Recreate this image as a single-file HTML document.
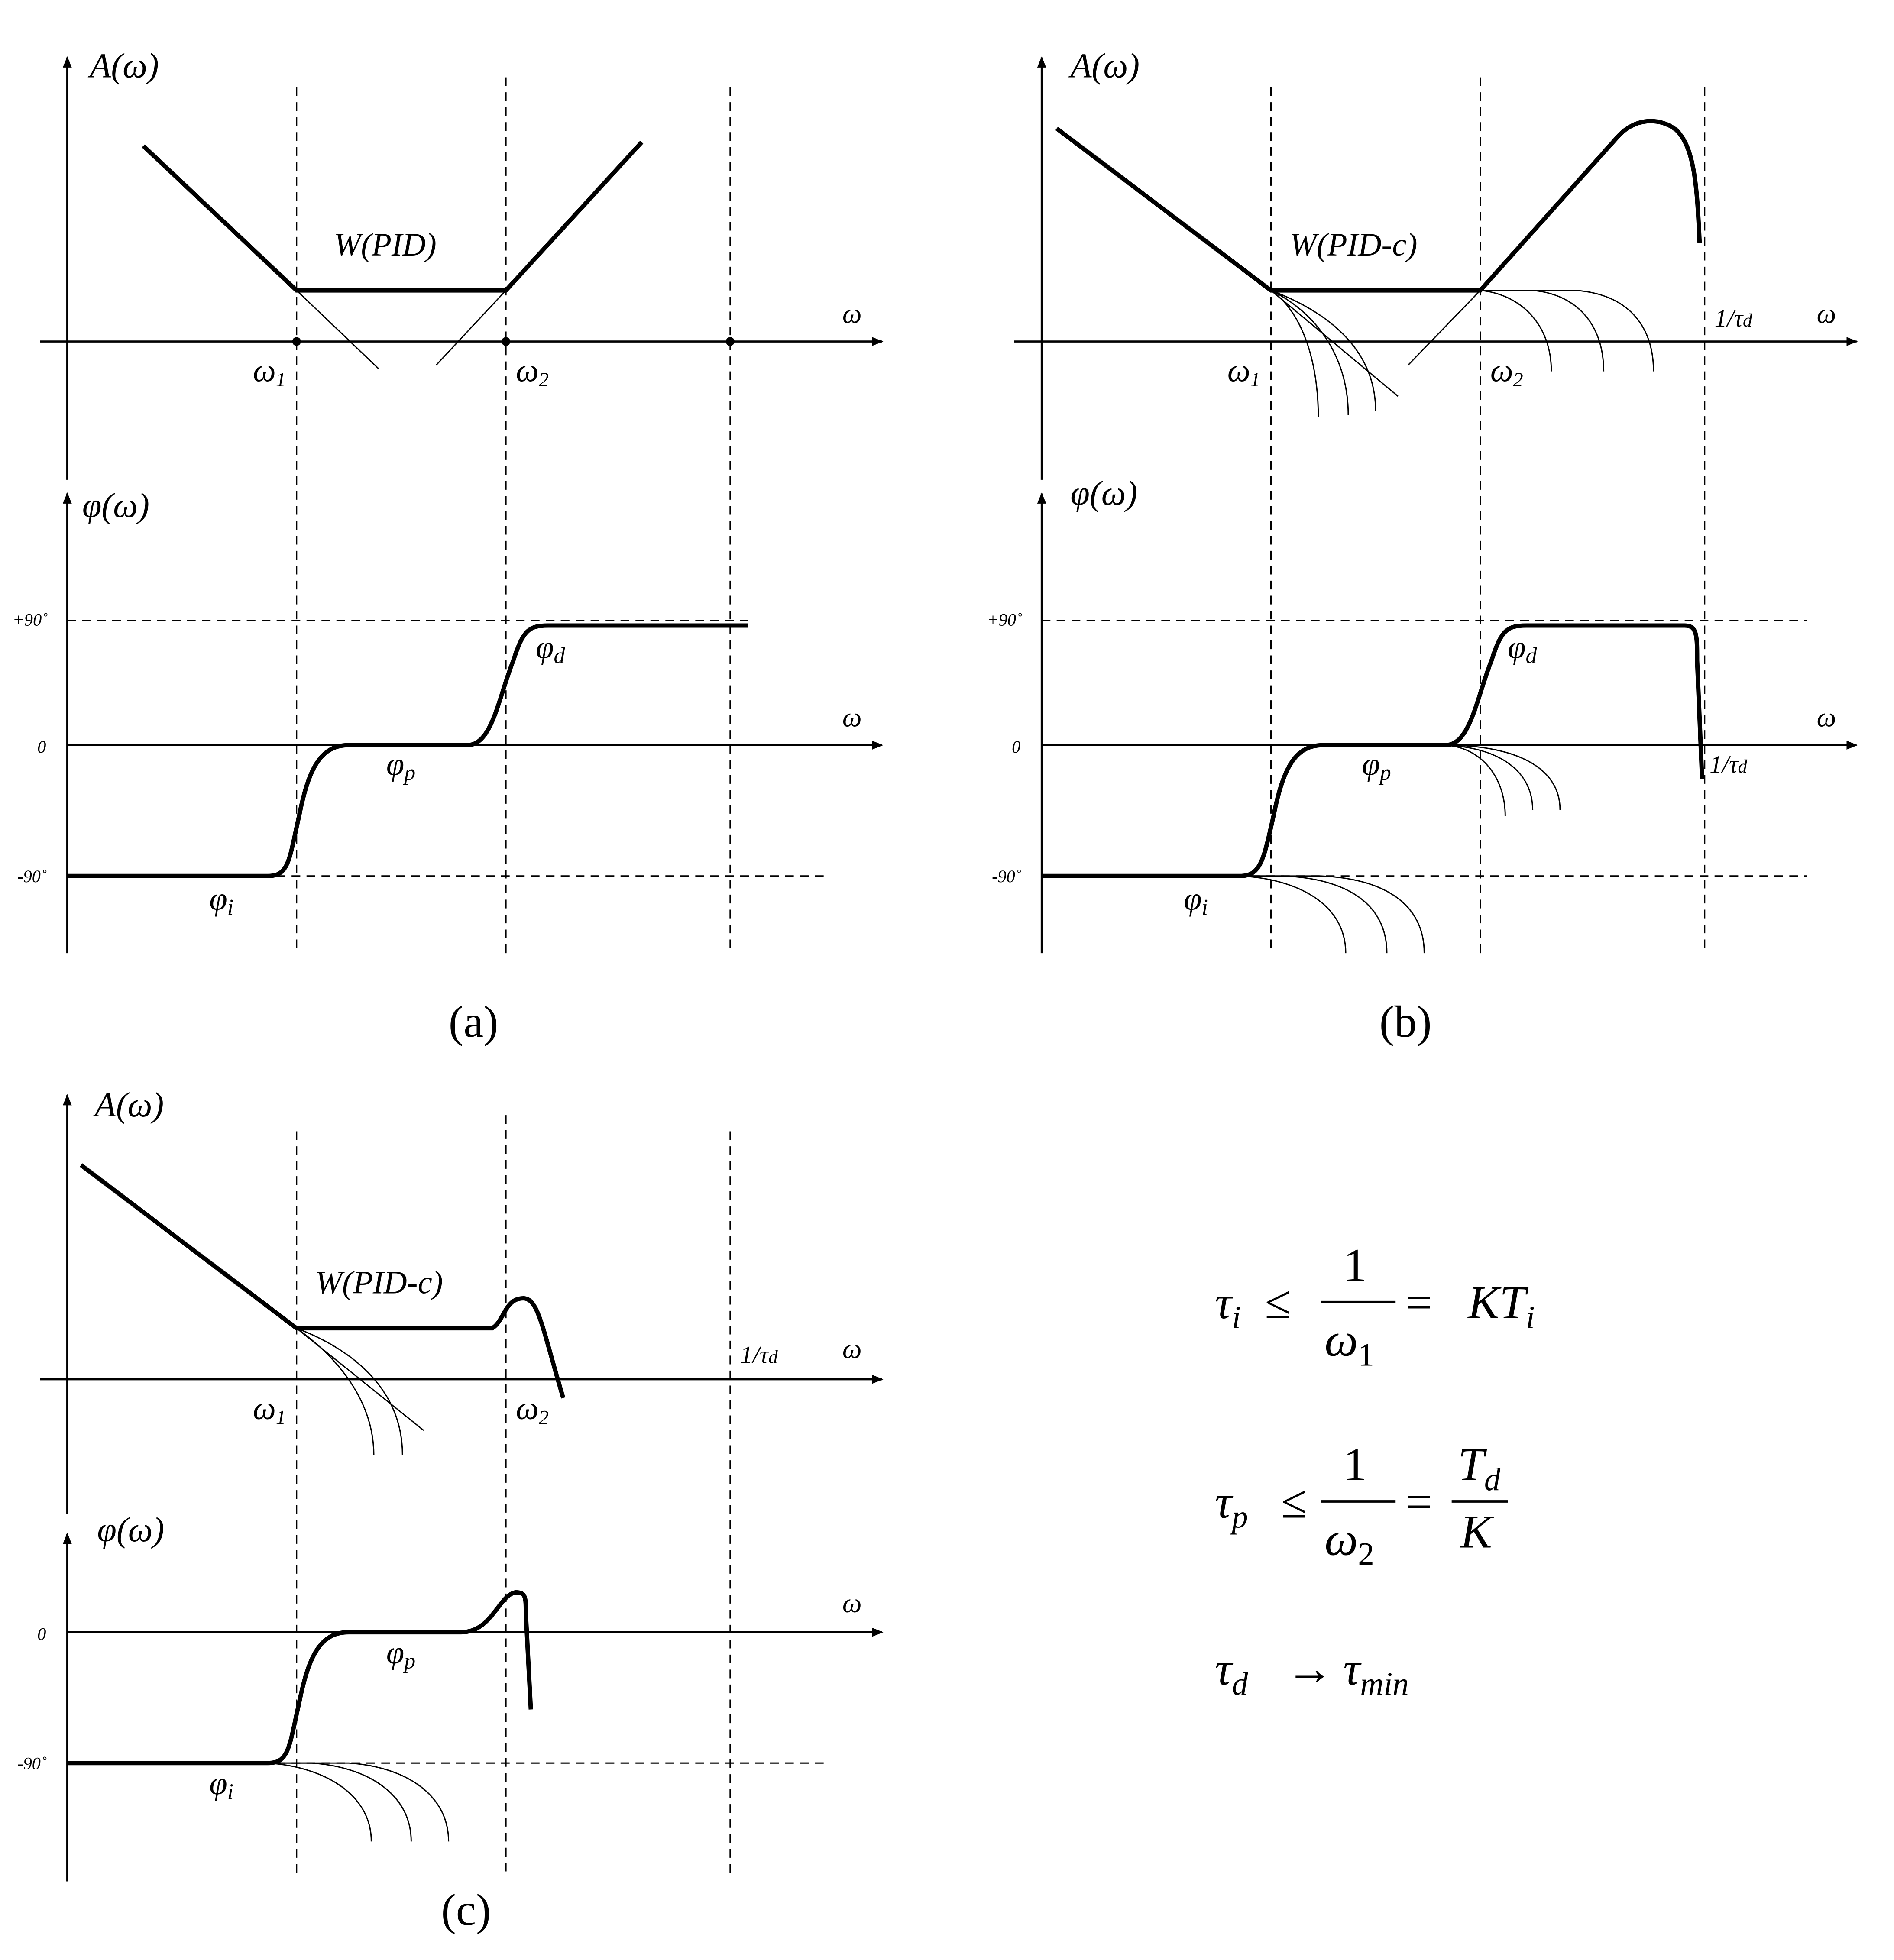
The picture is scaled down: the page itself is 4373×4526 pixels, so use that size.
<!DOCTYPE html>
<html><head><meta charset="utf-8"><style>
html,body{margin:0;padding:0;background:#fff;}
svg{display:block;}
text{font-family:"Liberation Serif",serif;fill:#000;}
.it{font-style:italic;}
.sm{font-family:"DejaVu Sans","Liberation Sans",sans-serif;font-style:italic;font-size:14px;}
</style></head><body>
<svg width="4373" height="4526" viewBox="0 0 1520 1573" xmlns="http://www.w3.org/2000/svg">
<defs>
<marker id="ar" viewBox="0 0 10 10" refX="9" refY="5" markerWidth="9" markerHeight="9" orient="auto" markerUnits="userSpaceOnUse"><path d="M0,1 L10,5 L0,9 z" fill="#000"/></marker>
</defs>
<g stroke="#000" fill="none">
<!-- Panel a -->
<g stroke-width="1.6">
<line x1="54" y1="385" x2="54" y2="46" marker-end="url(#ar)"/>
<line x1="32" y1="274" x2="708" y2="274" marker-end="url(#ar)"/>
<line x1="54" y1="765" x2="54" y2="396" marker-end="url(#ar)"/>
<line x1="54" y1="598" x2="708" y2="598" marker-end="url(#ar)"/>
</g>
<g stroke-width="1.1" stroke-dasharray="7,5">
<line x1="238" y1="70" x2="238" y2="765"/><line x1="406" y1="62" x2="406" y2="765"/><line x1="586" y1="70" x2="586" y2="765"/>
<line x1="54" y1="498" x2="600" y2="498"/><line x1="54" y1="703" x2="665" y2="703"/>
</g>
<polyline points="115,117 238,233 406,233 515,114" stroke-width="3.5"/>
<line x1="238" y1="233" x2="304" y2="296" stroke-width="1"/>
<line x1="406" y1="233" x2="350" y2="293" stroke-width="1"/>
<path d="M54,703 L215,703 C232,703 232,690 240,655 C248,615 258,598 280,598 L375,598 C395,598 400,560 412,530 C420,505 425,502 440,502 L600,502" stroke-width="3.5"/>
<!-- Panel b -->
<g stroke-width="1.6">
<line x1="836" y1="385" x2="836" y2="46" marker-end="url(#ar)"/>
<line x1="814" y1="274" x2="1490" y2="274" marker-end="url(#ar)"/>
<line x1="836" y1="765" x2="836" y2="396" marker-end="url(#ar)"/>
<line x1="836" y1="598" x2="1490" y2="598" marker-end="url(#ar)"/>
</g>
<g stroke-width="1.1" stroke-dasharray="7,5">
<line x1="1020" y1="70" x2="1020" y2="765"/><line x1="1188" y1="62" x2="1188" y2="765"/><line x1="1368" y1="70" x2="1368" y2="765"/>
<line x1="836" y1="498" x2="1450" y2="498"/><line x1="836" y1="703" x2="1450" y2="703"/>
</g>
<path d="M848,103 L1020,233 L1188,233 L1298,110 C1312,94 1332,94 1345,104 C1360,118 1362,150 1364,195" stroke-width="3.5"/>
<g stroke-width="1">
<line x1="1020" y1="233" x2="1122" y2="318"/>
<line x1="1188" y1="233" x2="1130" y2="293"/>
<path d="M1020,233 C1045,250 1058,290 1058,335"/>
<path d="M1020,233 C1055,250 1082,285 1082,333"/>
<path d="M1020,233 C1065,250 1104,280 1104,330"/>
<path d="M1188,233 C1220,236 1245,260 1245,298"/>
<path d="M1188,233 L1230,233 C1265,236 1287,260 1287,298"/>
<path d="M1188,233 L1265,233 C1305,236 1327,260 1327,298"/>
<path d="M1160,598 C1190,600 1208,625 1208,655"/>
<path d="M1160,598 C1205,600 1230,620 1230,650"/>
<path d="M1160,598 C1215,598 1252,615 1252,650"/>
<path d="M995,703 C1040,705 1080,725 1080,765"/>
<path d="M995,703 L1030,703 C1080,705 1113,725 1113,765"/>
<path d="M995,703 L1060,703 C1110,705 1143,725 1143,765"/>
</g>
<path d="M836,703 L995,703 C1012,703 1014,690 1022,655 C1030,615 1040,598 1062,598 L1160,598 C1180,598 1185,560 1197,530 C1205,505 1210,502 1225,502 L1352,502 C1362,502 1362,510 1362,530 L1366,625" stroke-width="3.5"/>
<!-- Panel c -->
<g stroke-width="1.6">
<line x1="54" y1="1215" x2="54" y2="879" marker-end="url(#ar)"/>
<line x1="32" y1="1107" x2="708" y2="1107" marker-end="url(#ar)"/>
<line x1="54" y1="1510" x2="54" y2="1231" marker-end="url(#ar)"/>
<line x1="54" y1="1310" x2="708" y2="1310" marker-end="url(#ar)"/>
</g>
<g stroke-width="1.1" stroke-dasharray="7,5">
<line x1="238" y1="908" x2="238" y2="1505"/><line x1="406" y1="895" x2="406" y2="1505"/><line x1="586" y1="908" x2="586" y2="1505"/>
<line x1="54" y1="1415" x2="665" y2="1415"/>
</g>
<path d="M65,935 L238,1066 L395,1066 C405,1060 405,1042 420,1042 C432,1042 435,1065 452,1122" stroke-width="3.5"/>
<g stroke-width="1">
<line x1="238" y1="1066" x2="340" y2="1148"/>
<path d="M238,1066 C265,1085 300,1120 300,1168"/>
<path d="M238,1066 C275,1080 323,1110 323,1168"/>
<path d="M215,1415 C260,1418 298,1440 298,1478"/>
<path d="M215,1415 L250,1415 C295,1418 330,1440 330,1478"/>
<path d="M215,1415 L280,1415 C325,1418 360,1440 360,1478"/>
</g>
<path d="M54,1415 L215,1415 C232,1415 232,1402 240,1367 C248,1327 258,1310 280,1310 L370,1310 C395,1310 400,1280 414,1278 C422,1278 422,1282 422,1295 L426,1372" stroke-width="3.5"/>
</g>
<!-- dots -->
<circle cx="238" cy="274" r="3.5"/><circle cx="406" cy="274" r="3.5"/><circle cx="586" cy="274" r="3.5"/>
<!-- labels a -->
<g class="it" font-size="28">
<text x="72" y="62">A(ω)</text><text x="66" y="415">φ(ω)</text>
<text x="859" y="62" font-size="28">A(ω)</text><text x="859" y="405">φ(ω)</text>
<text x="76" y="896">A(ω)</text><text x="78" y="1237">φ(ω)</text>
</g>
<g class="it" font-size="26">
<text x="268" y="205">W(PID)</text>
<text x="1035" y="205">W(PID-c)</text>
<text x="253" y="1038">W(PID-c)</text>
<text x="203" y="306">ω<tspan font-size="16" dy="4">1</tspan></text>
<text x="414" y="306">ω<tspan font-size="16" dy="4">2</tspan></text>
<text x="985" y="306">ω<tspan font-size="16" dy="4">1</tspan></text>
<text x="1196" y="306">ω<tspan font-size="16" dy="4">2</tspan></text>
<text x="203" y="1139">ω<tspan font-size="16" dy="4">1</tspan></text>
<text x="414" y="1139">ω<tspan font-size="16" dy="4">2</tspan></text>
<text x="676" y="259" font-size="22">ω</text><text x="676" y="583" font-size="22">ω</text>
<text x="1458" y="259" font-size="22">ω</text><text x="1458" y="583" font-size="22">ω</text>
<text x="676" y="1090" font-size="22">ω</text><text x="676" y="1294" font-size="22">ω</text>
<text x="310" y="622">φ<tspan font-size="18" dy="4">p</tspan></text>
<text x="168" y="730">φ<tspan font-size="18" dy="4">i</tspan></text>
<text x="430" y="528">φ<tspan font-size="18" dy="4">d</tspan></text>
<text x="1093" y="622">φ<tspan font-size="18" dy="4">p</tspan></text>
<text x="950" y="730">φ<tspan font-size="18" dy="4">i</tspan></text>
<text x="1210" y="528">φ<tspan font-size="18" dy="4">d</tspan></text>
<text x="310" y="1335">φ<tspan font-size="18" dy="4">p</tspan></text>
<text x="168" y="1440">φ<tspan font-size="18" dy="4">i</tspan></text>
<text x="1376" y="262" font-size="20">1/τ<tspan font-size="15">d</tspan></text>
<text x="1372" y="620" font-size="20">1/τ<tspan font-size="15">d</tspan></text>
<text x="594" y="1094" font-size="20">1/τ<tspan font-size="15">d</tspan></text>
</g>
<g class="sm">
<text x="10" y="502">+90˚</text><text x="30" y="604">0</text><text x="14" y="708">-90˚</text>
<text x="792" y="502">+90˚</text><text x="812" y="604">0</text><text x="796" y="708">-90˚</text>
<text x="30" y="1316">0</text><text x="14" y="1420">-90˚</text>
</g>
<g font-size="36">
<text x="360" y="832">(a)</text><text x="1107" y="832">(b)</text><text x="354" y="1545">(c)</text>
</g>
<!-- equations -->
<g font-size="38">
<text x="975" y="1058" class="it">τ<tspan font-size="26" dy="8">i</tspan></text>
<text x="1015" y="1058">≤</text>
<text x="1078" y="1028">1</text>
<line x1="1060" y1="1045" x2="1120" y2="1045" stroke="#000" stroke-width="2"/>
<text x="1063" y="1088" class="it">ω<tspan font-size="26" dy="8" font-style="normal">1</tspan></text>
<text x="1128" y="1058">=</text>
<text x="1178" y="1058" class="it">KT<tspan font-size="26" dy="8">i</tspan></text>

<text x="975" y="1218" class="it">τ<tspan font-size="26" dy="8">p</tspan></text>
<text x="1028" y="1218">≤</text>
<text x="1078" y="1188">1</text>
<line x1="1060" y1="1205" x2="1120" y2="1205" stroke="#000" stroke-width="2"/>
<text x="1063" y="1248" class="it">ω<tspan font-size="26" dy="8" font-style="normal">2</tspan></text>
<text x="1128" y="1218">=</text>
<text x="1170" y="1188" class="it">T<tspan font-size="26" dy="8">d</tspan></text>
<line x1="1165" y1="1205" x2="1210" y2="1205" stroke="#000" stroke-width="2"/>
<text x="1172" y="1242" class="it">K</text>

<text x="975" y="1352" class="it">τ<tspan font-size="26" dy="8">d</tspan></text>
<text x="1032" y="1352">→</text>
<text x="1078" y="1352" class="it">τ<tspan font-size="26" dy="8">min</tspan></text>
</g>
</svg>
</body></html>
